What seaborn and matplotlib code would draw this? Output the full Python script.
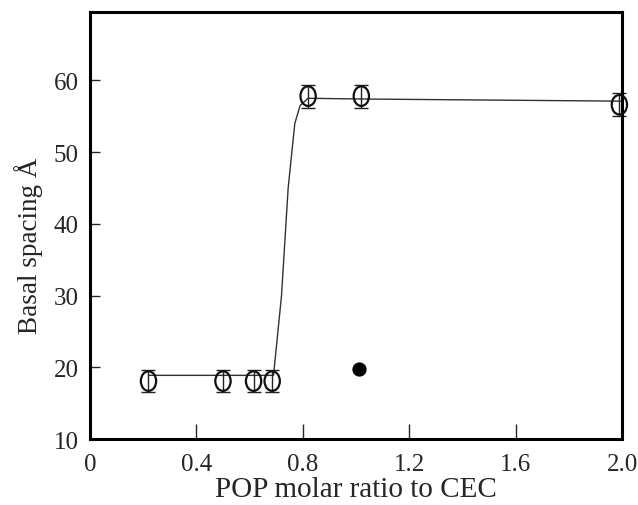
import numpy as np
import pandas as pd
import seaborn as sns
import matplotlib.pyplot as plt
from matplotlib.path import Path

# measured basal spacings (open circles) with error bars
ratio = [0.22, 0.50, 0.615, 0.685, 0.82, 1.02, 1.99]
spacing = [18.1, 18.1, 18.1, 18.1, 57.8, 57.8, 56.6]
err = [1.5, 1.5, 1.5, 1.5, 1.6, 1.6, 1.6]

# single solid point
solid_x = [1.01]
solid_y = [19.8]

# hand-drawn guide curve
fit_x = [0.22, 0.69, 0.72, 0.745, 0.77, 0.79, 0.82, 1.02, 2.0]
fit_y = [18.9, 18.9, 30.0, 45.0, 54.0, 56.5, 57.5, 57.4, 57.1]

sns.set_theme(style="ticks")
plt.rcParams['font.family'] = ['Liberation Serif', 'DejaVu Serif']

df = pd.DataFrame({'ratio': ratio, 'spacing': spacing})
fit = pd.DataFrame({'x': fit_x, 'y': fit_y})

fig = plt.figure(figsize=(6.38, 5.06), dpi=100)
ax = fig.add_axes([0.141, 0.130, 0.834, 0.844])

# tall oval marker like the scanned "O"
circ = Path.unit_circle()
oval = Path(circ.vertices * np.array([0.78, 1.0]), circ.codes)

sns.lineplot(x='x', y='y', data=fit, color='#333333', linewidth=1.0, ax=ax)
ax.errorbar(ratio, spacing, yerr=err, fmt='none', ecolor='#222222',
            elinewidth=1.0, capsize=5.2, capthick=1.0, clip_on=False)
sns.scatterplot(x='ratio', y='spacing', data=df, marker=oval, s=200,
                facecolor='none', edgecolor='#111111', linewidth=1.6, ax=ax,
                zorder=3, clip_on=False)
sns.scatterplot(x=solid_x, y=solid_y, color='black', s=90, edgecolor='black', ax=ax)

ax.set_xlim(0, 2.0)
ax.set_ylim(10, 69.5)
ax.set_xticks([0, 0.4, 0.8, 1.2, 1.6, 2.0])
ax.set_xticklabels(['0', '0.4', '0.8', '1.2', '1.6', '2.0'])
ax.set_yticks([10, 20, 30, 40, 50, 60])

ax.set_xlabel('POP molar ratio to CEC', fontsize=21, labelpad=1)
ax.set_ylabel('Basal spacing Å', fontsize=19.5)
ax.yaxis.set_label_coords(-0.088, 0.455)

ax.tick_params(axis='x', direction='in', length=11, width=1.0, labelsize=18, pad=10)
ax.tick_params(axis='y', direction='in', length=7, width=1.0, labelsize=18, pad=8)
for s in ax.spines.values():
    s.set_visible(True)
    s.set_linewidth(2.2)
    s.set_color('black')

fig.savefig('out.png', dpi=100)
